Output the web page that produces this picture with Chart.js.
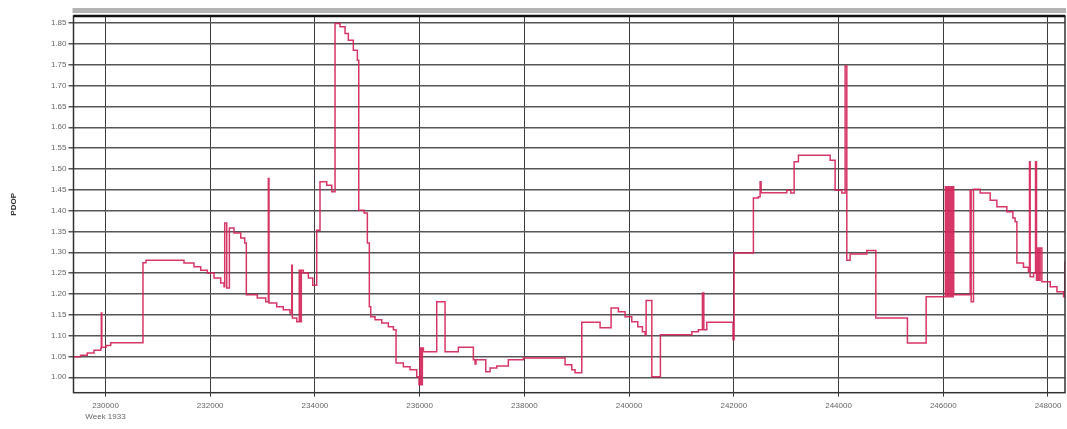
<!DOCTYPE html>
<html>
<head>
<meta charset="utf-8">
<script src="https://cdn.jsdelivr.net/npm/chart.js@4.4.1/dist/chart.umd.min.js"></script>
<style>
  body { margin: 0; background: #fff; }
  #wrap { width: 1067px; height: 429px; }
</style>
</head>
<body>
<div id="wrap"><canvas id="myChart" width="1067" height="429"></canvas></div>
<script>
// gps time of each change (seconds of week)
let gpsTime = [
  229390, 229526, 229652, 229780, 229908, 229920, 229930, 230010, 230100, 230716,
  230774, 231499, 231690, 231818, 231945, 232073, 232200, 232264, 232277, 232315,
  232366, 232455, 232583, 232659, 232690, 232900, 233060, 233110, 233123, 233270,
  233396, 233524, 233557, 233568, 233652, 233700, 233720, 233740, 233778, 233874,
  233958, 234034, 234097, 234225, 234321, 234384, 234479, 234575, 234638, 234733,
  234810, 234837, 234938, 235001, 235039, 235066, 235148, 235276, 235402, 235498,
  235549, 235689, 235816, 235944, 235988, 236007, 236027, 236052, 236071, 236326,
  236485, 236739, 237026, 237058, 237077, 237262, 237345, 237473, 237694, 237981,
  238777, 238905, 238968, 239096, 239446, 239656, 239796, 239923, 240051, 240166,
  240254, 240306, 240325, 240434, 240598, 241198, 241324, 241400, 241427, 241484,
  241985, 242005, 242374, 242469, 242502, 242521, 243012, 243088, 243152, 243234,
  243840, 243935, 244063, 244126, 244158, 244221, 244540, 244712, 245316, 245673,
  246040, 246055, 246070, 246085, 246100, 246115, 246130, 246145, 246160, 246175,
  246190, 246200, 246514, 246533, 246577, 246705, 246896, 247024, 247214, 247329,
  247373, 247406, 247532, 247627, 247647, 247660, 247724, 247762, 247781, 247800,
  247827, 247851, 247884, 248043, 248171, 248298, 248320
];

// pdop value from that time on
let pdop = [
  1.049, 1.053, 1.058, 1.065, 1.069, 1.154, 1.072, 1.076, 1.083, 1.275,
  1.281, 1.274, 1.265, 1.257, 1.250, 1.238, 1.226, 1.217, 1.370, 1.214,
  1.358, 1.346, 1.334, 1.322, 1.198, 1.190, 1.181, 1.477, 1.178, 1.169,
  1.162, 1.154, 1.269, 1.142, 1.133, 1.257, 1.133, 1.257, 1.250, 1.238,
  1.221, 1.353, 1.469, 1.461, 1.445, 1.849, 1.841, 1.825, 1.809, 1.785,
  1.761, 1.401, 1.394, 1.322, 1.169, 1.145, 1.138, 1.130, 1.121, 1.114,
  1.034, 1.025, 1.018, 1.001, 0.982, 1.070, 0.982, 1.070, 1.061, 1.181,
  1.061, 1.072, 1.042, 1.032, 1.042, 1.013, 1.022, 1.027, 1.042, 1.046,
  1.030, 1.018, 1.011, 1.132, 1.119, 1.166, 1.157, 1.145, 1.133, 1.121,
  1.109, 1.102, 1.184, 1.001, 1.102, 1.109, 1.114, 1.202, 1.114, 1.132,
  1.090, 1.298, 1.430, 1.433, 1.469, 1.443, 1.449, 1.442, 1.517, 1.533,
  1.521, 1.449, 1.442, 1.747, 1.281, 1.296, 1.304, 1.142, 1.082, 1.193,
  1.457, 1.193, 1.457, 1.193, 1.457, 1.193, 1.457, 1.193, 1.457, 1.193,
  1.457, 1.198, 1.449, 1.181, 1.451, 1.442, 1.425, 1.409, 1.397, 1.382,
  1.373, 1.274, 1.264, 1.253, 1.517, 1.241, 1.250, 1.517, 1.233, 1.310,
  1.233, 1.310, 1.229, 1.217, 1.205, 1.193, 1.277
];

// axis tick labels
let xTickValues = [230000, 232000, 234000, 236000, 238000, 240000, 242000, 244000, 246000, 248000];
let yTickValues = [1.00, 1.05, 1.10, 1.15, 1.20, 1.25, 1.30, 1.35, 1.40, 1.45, 1.50, 1.55, 1.60, 1.65, 1.70, 1.75, 1.80, 1.85];
let weekLabel = "Week 1933";

let points = gpsTime.map((t, i) => ({ x: t, y: pdop[i] }));

// frame round the plot, like the old plotting tool
let framePlugin = {
  id: 'frame',
  afterDraw(chart) {
    let ctx = chart.ctx;
    let a = chart.chartArea;
    ctx.save();
    ctx.fillStyle = '#b4b4b4';
    ctx.fillRect(a.left - 1, 8, a.right - a.left + 2, 5);
    ctx.strokeStyle = '#333';
    ctx.lineWidth = 1.5;
    ctx.strokeRect(a.left, a.top, a.right - a.left, a.bottom - a.top);
    ctx.strokeStyle = '#111';
    ctx.lineWidth = 2.5;
    ctx.beginPath();
    ctx.moveTo(a.left, a.top);
    ctx.lineTo(a.right, a.top);
    ctx.stroke();
    ctx.restore();
  }
};

let ctx = document.getElementById('myChart').getContext('2d');
let myChart = new Chart(ctx, {
  type: 'line',
  data: {
    datasets: [{
      label: 'PDOP',
      data: points,
      stepped: true,
      borderColor: 'rgba(212, 38, 90, 0.92)',
      borderWidth: 1.5,
      pointRadius: 0,
      fill: false
    }]
  },
  options: {
    responsive: false,
    animation: false,
    layout: { padding: { top: 16, right: 2, left: 0, bottom: 0 } },
    plugins: {
      legend: { display: false },
      tooltip: { enabled: false }
    },
    scales: {
      x: {
        type: 'linear',
        min: 229389,
        max: 248325,
        afterBuildTicks: (scale) => { scale.ticks = xTickValues.map(v => ({ value: v })); },
        afterFit: (scale) => { scale.height = 36.3; },
        grid: { color: '#3c3c3c', lineWidth: 1, tickLength: 4, drawTicks: true },
        border: { display: false },
        ticks: {
          autoSkip: false,
          maxRotation: 0,
          padding: 4,
          color: '#666',
          font: { family: 'Liberation Sans', size: 8, lineHeight: 1.35 },
          callback: (v, i) => i === 0 ? [String(v), weekLabel] : String(v)
        }
      },
      y: {
        min: 0.963,
        max: 1.867,
        afterBuildTicks: (scale) => { scale.ticks = yTickValues.map(v => ({ value: v })); },
        afterFit: (scale) => { scale.width = 73.5; },
        grid: { color: '#555', lineWidth: 1.5, tickLength: 5 },
        border: { display: false },
        title: {
          display: true,
          text: 'PDOP',
          color: '#333',
          padding: { top: 9, bottom: 0 },
          font: { family: 'Liberation Sans', size: 8, weight: 'bold' }
        },
        ticks: {
          autoSkip: false,
          padding: 2,
          color: '#666',
          font: { family: 'Liberation Sans', size: 8 },
          callback: (v) => Number(v).toFixed(2)
        }
      }
    }
  },
  plugins: [framePlugin]
});
</script>
</body>
</html>
